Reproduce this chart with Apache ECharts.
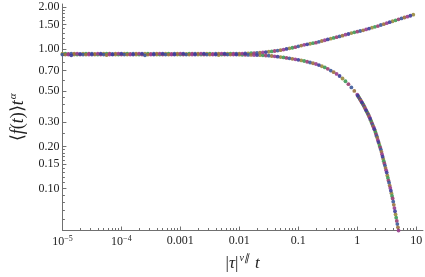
<!DOCTYPE html>
<html><head><meta charset="utf-8">
<script src="https://cdn.jsdelivr.net/npm/echarts@6/dist/echarts.min.js"></script>
<style>html,body{margin:0;padding:0;background:#fff}#c{width:425px;height:277px}</style>
</head><body><div id="c"></div>
<script>
// x sample grid (|tau|^nu t)
const xGrid = [
1e-5,1.122e-5,1.259e-5,1.413e-5,1.585e-5,1.778e-5,1.995e-5,2.239e-5,2.512e-5,2.818e-5,3.162e-5,3.548e-5,3.981e-5,4.467e-5,5.012e-5,5.623e-5,6.31e-5,7.079e-5,7.943e-5,8.913e-5,
1e-4,1.122e-4,1.259e-4,1.413e-4,1.585e-4,1.778e-4,1.995e-4,2.239e-4,2.512e-4,2.818e-4,3.162e-4,3.548e-4,3.981e-4,4.467e-4,5.012e-4,5.623e-4,6.31e-4,7.079e-4,7.943e-4,8.913e-4,
1e-3,1.122e-3,1.259e-3,1.413e-3,1.585e-3,1.778e-3,1.995e-3,2.239e-3,2.512e-3,2.818e-3,3.162e-3,3.548e-3,3.981e-3,4.467e-3,5.012e-3,5.623e-3,6.31e-3,7.079e-3,7.943e-3,8.913e-3,
1e-2,1.122e-2,1.259e-2,1.413e-2,1.585e-2,1.778e-2,1.995e-2,2.239e-2,2.512e-2,2.818e-2,3.162e-2,3.548e-2,3.981e-2,4.467e-2,5.012e-2,5.623e-2,6.31e-2,7.079e-2,7.943e-2,8.913e-2,
0.1,0.1122,0.1259,0.1413,0.1585,0.1778,0.1995,0.2239,0.2512,0.2818,0.3162,0.3548,0.3981,0.4467,0.5012,0.5623,0.631,0.7079,0.7943,0.8913,
1,1.122,1.259,1.413,1.585,1.778,1.995,2.239,2.512,2.818,3.162,3.548,3.981,4.467,5.012,5.623,6.31,7.079,7.943,8.913
];
// upper branch <f(t)> t^alpha on xGrid
const upperBranch = [
0.925,0.925,0.92,0.925,0.925,0.925,0.92,0.925,0.925,0.925,0.925,0.92,0.925,0.925,0.925,0.925,0.925,0.92,0.925,0.925,
0.925,0.925,0.925,0.92,0.925,0.925,0.925,0.925,0.925,0.925,0.92,0.925,0.925,0.925,0.925,0.925,0.925,0.92,0.925,0.925,
0.925,0.925,0.92,0.925,0.925,0.925,0.925,0.925,0.925,0.925,0.925,0.92,0.925,0.925,0.925,0.925,0.925,0.925,0.925,0.925,
0.925,0.926,0.928,0.93,0.932,0.934,0.936,0.94,0.945,0.95,0.955,0.96,0.967,0.974,0.98,0.99,1.0,1.01,1.02,1.03,
1.045,1.057,1.07,1.08,1.09,1.1,1.11,1.125,1.14,1.155,1.17,1.185,1.2,1.215,1.23,1.245,1.265,1.28,1.3,1.315,
1.33,1.345,1.36,1.38,1.4,1.42,1.44,1.46,1.485,1.505,1.53,1.555,1.58,1.605,1.63,1.655,1.68,1.705,1.73,1.76
];
// lower branch <f(t)> t^alpha on xGrid (up to x ~ 0.9)
const lowerBranch = [
0.912,0.912,0.912,0.9,0.912,0.912,0.912,0.912,0.912,0.912,0.912,0.912,0.912,0.912,0.912,0.905,0.912,0.912,0.912,0.912,
0.912,0.912,0.912,0.912,0.912,0.912,0.912,0.912,0.9,0.912,0.912,0.912,0.912,0.912,0.912,0.912,0.912,0.912,0.912,0.912,
0.912,0.912,0.912,0.912,0.912,0.912,0.912,0.912,0.912,0.912,0.912,0.912,0.912,0.905,0.912,0.912,0.912,0.912,0.912,0.912,
0.91,0.909,0.908,0.907,0.906,0.905,0.904,0.902,0.9,0.898,0.895,0.89,0.885,0.88,0.875,0.869,0.863,0.857,0.85,0.843,
0.836,0.828,0.82,0.81,0.8,0.79,0.78,0.766,0.752,0.737,0.72,0.7,0.682,0.662,0.64,0.614,0.587,0.559,0.53,0.5
];
// lower branch tail, densely sampled (x from 1 to 5)
const tailX = [
1,1.023,1.047,1.072,1.096,1.122,1.148,1.175,1.202,1.23,1.259,1.288,1.318,1.349,1.38,1.413,1.445,1.479,1.514,1.549,
1.585,1.622,1.66,1.698,1.738,1.778,1.82,1.862,1.905,1.95,1.995,2.042,2.089,2.138,2.188,2.239,2.291,2.344,2.399,2.455,
2.512,2.57,2.63,2.692,2.754,2.818,2.884,2.951,3.02,3.09,3.162,3.236,3.311,3.388,3.467,3.548,3.631,3.715,3.802,3.89,
3.981,4.074,4.169,4.266,4.365,4.467,4.571,4.677,4.786,4.898,5.012
];
const tailY = [
0.47,0.462,0.455,0.448,0.441,0.434,0.427,0.42,0.413,0.406,0.4,0.393,0.385,0.378,0.371,0.363,0.356,0.35,0.343,0.337,
0.33,0.323,0.315,0.308,0.3,0.293,0.286,0.279,0.273,0.266,0.26,0.252,0.244,0.237,0.23,0.222,0.215,0.209,0.202,0.196,
0.19,0.183,0.176,0.169,0.163,0.157,0.151,0.146,0.14,0.135,0.13,0.124,0.119,0.114,0.11,0.105,0.101,0.0964,0.0925,0.0885,
0.0849,0.0805,0.0764,0.0724,0.0687,0.0652,0.0618,0.0586,0.0556,0.0527,0.05
];
const xMajorTicks = [1e-5,1e-4,1e-3,0.01,0.1,1,10];
const xTickLabels = ['10{sup|−5}','10{sup|−4}','0.001','0.01','0.1','1','10'];
const yMajorTicks = [0.1,0.15,0.2,0.3,0.5,0.7,1,1.5,2];
const yTickLabels = ['0.10','0.15','0.20','0.30','0.50','0.70','1.00','1.50','2.00'];
const yMinorTicks = [0.05,0.06,0.07,0.08,0.09,0.11,0.12,0.13,0.14,0.16,0.17,0.18,0.19,0.25,0.35,0.4,0.45,0.6,0.8,0.9,1.1,1.2,1.3,1.4,1.6,1.7,1.8,1.9];
const seriesColors = ['#998b3d','#3d9957','#993d71','#3d5999','#99713d','#993d8d','#3e3d99'];

const xMinorTicks = [];
for (let d = -5; d <= 0; d++) for (let m = 2; m <= 9; m++) xMinorTicks.push(+(m * Math.pow(10, d)).toPrecision(3));

const XMIN = 1e-5, XMAX = 13, YMIN = 0.05, YMAX = 2.1;
const serif = 'Liberation Serif';
const axisColor = '#707070';
const n = seriesColors.length;

const series = seriesColors.map((c, i) => {
  const data = [];
  upperBranch.forEach((y, k) => { if (k % n === i) data.push([xGrid[k], y]); });
  lowerBranch.forEach((y, k) => { if ((k + 3) % n === i) data.push([xGrid[k], y]); });
  tailY.forEach((y, k) => { if ((k + 5) % n === i) data.push([tailX[k], y]); });
  return { type: 'scatter', data, symbol: 'circle', symbolSize: 3.8, itemStyle: { color: c, opacity: 0.9 }, xAxisIndex: 0, yAxisIndex: 0, animation: false, silent: true };
});

const chart = echarts.init(document.getElementById('c'), null, { renderer: 'canvas' });
chart.setOption({
  animation: false,
  backgroundColor: '#fff',
  grid: { left: 50, right: 2, top: 4, bottom: 40 },
  xAxis: [
    {
      type: 'log', logBase: 10, min: XMIN, max: XMAX, position: 'bottom',
      name: '{a|\u007C}{i|τ}{a|\u007C}{s|ν∥}{a| }{i|t}', nameLocation: 'middle', nameGap: 23,
      nameTextStyle: { rich: {
        a: { fontFamily: serif, fontSize: 17, color: '#222' },
        i: { fontFamily: serif, fontStyle: 'italic', fontSize: 17, color: '#222' },
        s: { fontFamily: serif, fontStyle: 'italic', fontSize: 10, color: '#222', padding: [0, 2, 10, 1] }
      } },
      axisLine: { show: true, lineStyle: { color: axisColor, width: 1 } },
      axisTick: { show: true, inside: true, length: 4, customValues: xMajorTicks, lineStyle: { color: axisColor } },
      axisLabel: {
        show: true, margin: 4, customValues: xMajorTicks, color: '#222', fontFamily: serif, fontSize: 12,
        formatter: (v) => { const i = xMajorTicks.findIndex(t => Math.abs(Math.log10(t) - Math.log10(v)) < 1e-6); return i >= 0 ? xTickLabels[i] : ''; },
        rich: { sup: { fontFamily: serif, fontSize: 8, color: '#222', padding: [0, 0, 7, 0] } }
      },
      splitLine: { show: false }, minorTick: { show: false }
    },
    {
      type: 'log', logBase: 10, min: XMIN, max: XMAX, position: 'bottom', gridIndex: 0,
      axisLine: { show: false }, axisLabel: { show: false }, splitLine: { show: false },
      axisTick: { show: true, inside: true, length: 2.5, customValues: xMinorTicks, lineStyle: { color: axisColor } }
    }
  ],
  yAxis: [
    {
      type: 'log', logBase: 10, min: YMIN, max: YMAX, position: 'left',
      name: '{a|⟨}{i|f}{a|(}{i|t}{a|)⟩}{i|t}{s|α}', nameLocation: 'middle', nameGap: 33, nameRotate: 90,
      nameTextStyle: { rich: {
        a: { fontFamily: serif, fontSize: 18, color: '#222' },
        i: { fontFamily: serif, fontStyle: 'italic', fontSize: 18, color: '#222' },
        s: { fontFamily: serif, fontStyle: 'italic', fontSize: 11, color: '#222', padding: [0, 0, 10, 1] }
      } },
      axisLine: { show: true, lineStyle: { color: axisColor, width: 1 } },
      axisTick: { show: true, inside: true, length: 4, customValues: yMajorTicks, lineStyle: { color: axisColor } },
      axisLabel: {
        show: true, margin: 3, customValues: yMajorTicks, color: '#222', fontFamily: serif, fontSize: 12,
        formatter: (v) => { const i = yMajorTicks.findIndex(t => Math.abs(t - v) < 1e-6); return i >= 0 ? yTickLabels[i] : ''; }
      },
      splitLine: { show: false }, minorTick: { show: false }
    },
    {
      type: 'log', logBase: 10, min: YMIN, max: YMAX, position: 'left', gridIndex: 0,
      axisLine: { show: false }, axisLabel: { show: false }, splitLine: { show: false },
      axisTick: { show: true, inside: true, length: 2.5, customValues: yMinorTicks, lineStyle: { color: axisColor } }
    }
  ],
  series
});
</script></body></html>
